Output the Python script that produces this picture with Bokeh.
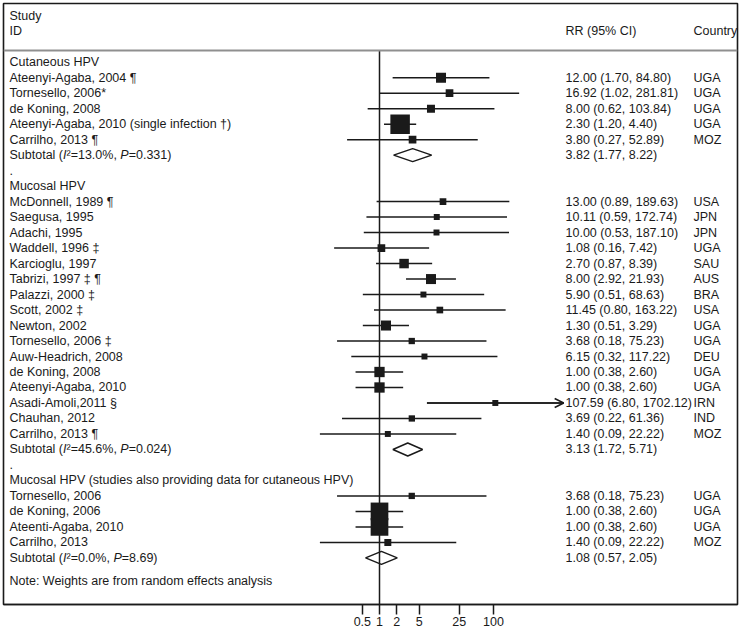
from bokeh.plotting import figure
from bokeh.models import (Range1d, Span, FixedTicker, CustomJSTickFormatter,
                          Arrow, OpenHead, ColumnDataSource)
from bokeh.core.properties import value
from bokeh.embed import file_html
from bokeh.resources import INLINE

# ---------------- data ----------------
group_titles = ["Cutaneous HPV",
                "Mucosal HPV",
                "Mucosal HPV (studies also providing data for cutaneous HPV)"]

studies_1 = ["Ateenyi-Agaba, 2004 ¶", "Tornesello, 2006*", "de Koning, 2008",
             "Ateenyi-Agaba, 2010 (single infection †)", "Carrilho, 2013 ¶"]
rr_1 = [12.00, 16.92, 8.00, 2.30, 3.80]
lo_1 = [1.70, 1.02, 0.62, 1.20, 0.27]
hi_1 = [84.80, 281.81, 103.84, 4.40, 52.89]
country_1 = ["UGA", "UGA", "UGA", "UGA", "MOZ"]
weight_1 = [14.6, 8.6, 9.3, 55.4, 8.6]

studies_2 = ["McDonnell, 1989 ¶", "Saegusa, 1995", "Adachi, 1995", "Waddell, 1996 ‡",
             "Karcioglu, 1997", "Tabrizi, 1997 ‡ ¶", "Palazzi, 2000 ‡", "Scott, 2002 ‡",
             "Newton, 2002", "Tornesello, 2006 ‡", "Auw-Headrich, 2008", "de Koning, 2008",
             "Ateenyi-Agaba, 2010", "Asadi-Amoli,2011 §", "Chauhan, 2012", "Carrilho, 2013 ¶"]
rr_2 = [13.00, 10.11, 10.00, 1.08, 2.70, 8.00, 5.90, 11.45, 1.30, 3.68, 6.15, 1.00,
        1.00, 107.59, 3.69, 1.40]
lo_2 = [0.89, 0.59, 0.53, 0.16, 0.87, 2.92, 0.51, 0.80, 0.51, 0.18, 0.32, 0.38,
        0.38, 6.80, 0.22, 0.09]
hi_2 = [189.63, 172.74, 187.10, 7.42, 8.39, 21.93, 68.63, 163.22, 3.29, 75.23, 117.22,
        2.60, 2.60, 1702.12, 61.36, 22.22]
country_2 = ["USA", "JPN", "JPN", "UGA", "SAU", "AUS", "BRA", "USA", "UGA", "UGA", "DEU",
             "UGA", "UGA", "IRN", "IND", "MOZ"]
weight_2 = [6.5, 5.2, 5.2, 8.6, 13.1, 14.6, 5.2, 6.5, 14.6, 5.8, 5.2, 15.5, 15.5,
            5.2, 5.8, 5.2]

studies_3 = ["Tornesello, 2006", "de Koning, 2006", "Ateenti-Agaba, 2010", "Carrilho, 2013"]
rr_3 = [3.68, 1.00, 1.00, 1.40]
lo_3 = [0.18, 0.38, 0.38, 0.09]
hi_3 = [75.23, 2.60, 2.60, 22.22]
country_3 = ["UGA", "UGA", "UGA", "MOZ"]
weight_3 = [5.8, 45.6, 45.6, 7.1]

sub_rr = [3.82, 3.13, 1.08]
sub_lo = [1.77, 1.72, 0.57]
sub_hi = [8.22, 5.71, 2.05]
sub_i2 = ["13.0%", "45.6%", "0.0%"]
sub_p = ["0.331", "0.024", "8.69"]

note_text = "Note: Weights are from random effects analysis"
tick_values = [0.5, 1, 2, 5, 25, 100]
tick_labels = ["0.5", "1", "2", "5", "25", "100"]

# ---------------- layout / style ----------------
FONT = "Liberation Sans"
FS = "12.5px"
FS_PX = 12.5
INK = "#1a1a1a"
ZERO_PX = 379.0      # canvas x of RR = 1
PX_DEC = 57.0        # pixels per decade
ROW0_PX = 61.7       # canvas y of first row
ROW_PX = 15.49       # row pitch
FRAME_L, FRAME_R, FRAME_T, FRAME_B = 3, 737, 3, 604
SIZE_K = 2.62
ARROW_CLIP = 1000.0
NOTE_ROW = 33.52


def px2val(px):
    return 10 ** ((px - ZERO_PX) / PX_DEC)


def px2row(py):
    return (py - ROW0_PX) / ROW_PX


LEFT_PX = 9
X_LEFT = px2val(LEFT_PX)
X_RR = px2val(565)
X_CTRY = px2val(693)

# Arial / Liberation Sans advance widths (1/1000 em)
CW = {"S": 667, "u": 556, "b": 556, "t": 278, "o": 556, "a": 556, "l": 222, " ": 278,
      "(": 333, ")": 333, "²": 333, "=": 584, ".": 278, "%": 889, ",": 278, "I": 278,
      "P": 667}


def tw(s):
    return sum(CW.get(c, 556) for c in s) * FS_PX / 1000.0


# ---------------- build rows ----------------
groups = [
    (studies_1, rr_1, lo_1, hi_1, country_1, weight_1),
    (studies_2, rr_2, lo_2, hi_2, country_2, weight_2),
    (studies_3, rr_3, lo_3, hi_3, country_3, weight_3),
]

left_txt, left_y = [], []
st = dict(x=[], y=[], lo=[], hi=[], size=[], rrtxt=[], ctry=[])
dia_xs, dia_ys, sub_rows = [], [], []
row = 0
for gi, (names, rr, lo, hi, ctry, w) in enumerate(groups):
    if gi > 0:
        left_txt.append(".")
        left_y.append(row)
        row += 1
    left_txt.append(group_titles[gi])
    left_y.append(row)
    row += 1
    for n, r, a, b, c, wt in zip(names, rr, lo, hi, ctry, w):
        left_txt.append(n)
        left_y.append(row)
        st["x"].append(r)
        st["y"].append(row)
        st["lo"].append(a)
        st["hi"].append(b)
        st["size"].append(SIZE_K * wt ** 0.5)
        st["rrtxt"].append(f"{r:.2f} ({a:.2f}, {b:.2f})")
        st["ctry"].append(c)
        row += 1
    h = 6.5 / ROW_PX
    dia_xs.append([sub_lo[gi], sub_rr[gi], sub_hi[gi], sub_rr[gi]])
    dia_ys.append([row, row - h, row, row + h])
    sub_rows.append(row)
    row += 1

left_txt.append(note_text)
left_y.append(NOTE_ROW)

# ---------------- figure ----------------
p = figure(frame_width=FRAME_R - FRAME_L, frame_height=FRAME_B - FRAME_T,
           x_axis_type="log",
           x_range=Range1d(px2val(FRAME_L), px2val(FRAME_R)),
           y_range=Range1d(px2row(FRAME_B), px2row(FRAME_T)),
           y_axis_location=None, output_backend="svg", toolbar_location=None,
           min_border_left=FRAME_L, min_border_right=3, min_border_top=FRAME_T,
           min_border_bottom=0)
p.xgrid.visible = False
p.ygrid.visible = False
p.outline_line_color = INK
p.outline_line_width = 1.6
p.background_fill_color = "white"
p.border_fill_color = "white"

ax = p.xaxis[0]
ax.ticker = FixedTicker(ticks=tick_values, minor_ticks=[])
ax.formatter = CustomJSTickFormatter(
    args=dict(vals=tick_values, labs=tick_labels),
    code="const i = vals.indexOf(tick); return i >= 0 ? labs[i] : String(tick);")
ax.axis_line_color = INK
ax.axis_line_width = 1.6
ax.major_tick_line_color = INK
ax.major_tick_line_width = 1.5
ax.major_tick_out = 10
ax.major_tick_in = 0
ax.minor_tick_line_color = None
ax.major_label_text_font = FONT
ax.major_label_text_font_size = FS
ax.major_label_text_color = INK
ax.major_label_standoff = 2

# header
HEAD_Y = px2row(50)
p.add_layout(Span(location=HEAD_Y, dimension="width", line_color="#8f8f8f", line_width=2))
head_src = ColumnDataSource(dict(
    x=[X_LEFT, X_LEFT, X_RR, X_CTRY],
    y=[px2row(15), px2row(30.7), px2row(30.7), px2row(30.7)],
    t=["Study", "ID", "RR (95% CI)", "Country"]))
txt_kw = dict(text_font=value(FONT), text_font_size=value(FS), text_color=INK,
              text_baseline="middle", text_align="left")
p.text(x="x", y="y", text="t", source=head_src, **txt_kw)

# diamonds (under null line)
p.patches(xs=dia_xs, ys=dia_ys, fill_color="white", line_color=INK, line_width=1.5)

# null line
p.segment(x0=[1], y0=[HEAD_Y], x1=[1], y1=[px2row(FRAME_B)], line_color=INK, line_width=1.5)

src = ColumnDataSource(st)
p.segment(x0="lo", y0="y", x1="hi", y1="y", source=src, line_color=INK, line_width=1.5)
p.scatter(x="x", y="y", size="size", marker="square", source=src,
          fill_color=INK, line_color=None)

# arrow heads for clipped CIs
clip = [i for i, b in enumerate(st["hi"]) if b > ARROW_CLIP]
arr_src = ColumnDataSource(dict(x0=[st["lo"][i] for i in clip], x1=[st["hi"][i] for i in clip],
                                y=[st["y"][i] for i in clip]))
p.add_layout(Arrow(end=OpenHead(size=9, line_color=INK, line_width=1.5),
                   x_start="x0", y_start="y", x_end="x1", y_end="y", source=arr_src,
                   line_color=INK, line_width=1.5))

# left labels
p.text(x=[X_LEFT] * len(left_txt), y=left_y, text=left_txt, **txt_kw)
# right columns
p.text(x=X_RR, y="y", text="rrtxt", source=src, **txt_kw)
p.text(x=X_CTRY, y="y", text="ctry", source=src, **txt_kw)
p.text(x=[X_RR] * 3, y=sub_rows,
       text=[f"{r:.2f} ({a:.2f}, {b:.2f})" for r, a, b in zip(sub_rr, sub_lo, sub_hi)],
       **txt_kw)

# subtotal labels with italic I and P
norm = dict(x=[], y=[], t=[])
ital = dict(x=[], y=[], t=[])
for r, i2, pv in zip(sub_rows, sub_i2, sub_p):
    pieces = [("Subtotal (", False), ("I", True), (f"²={i2}, ", False), ("P", True),
              (f"={pv})", False)]
    off = 0.0
    for s, it in pieces:
        d = ital if it else norm
        d["x"].append(px2val(LEFT_PX + off))
        d["y"].append(r)
        d["t"].append(s)
        off += tw(s)
p.text(x="x", y="y", text="t", source=ColumnDataSource(norm), **txt_kw)
p.text(x="x", y="y", text="t", source=ColumnDataSource(ital),
       text_font_style="italic", **txt_kw)

open("out.html", "w").write(file_html(p, INLINE, title="forest plot"))
